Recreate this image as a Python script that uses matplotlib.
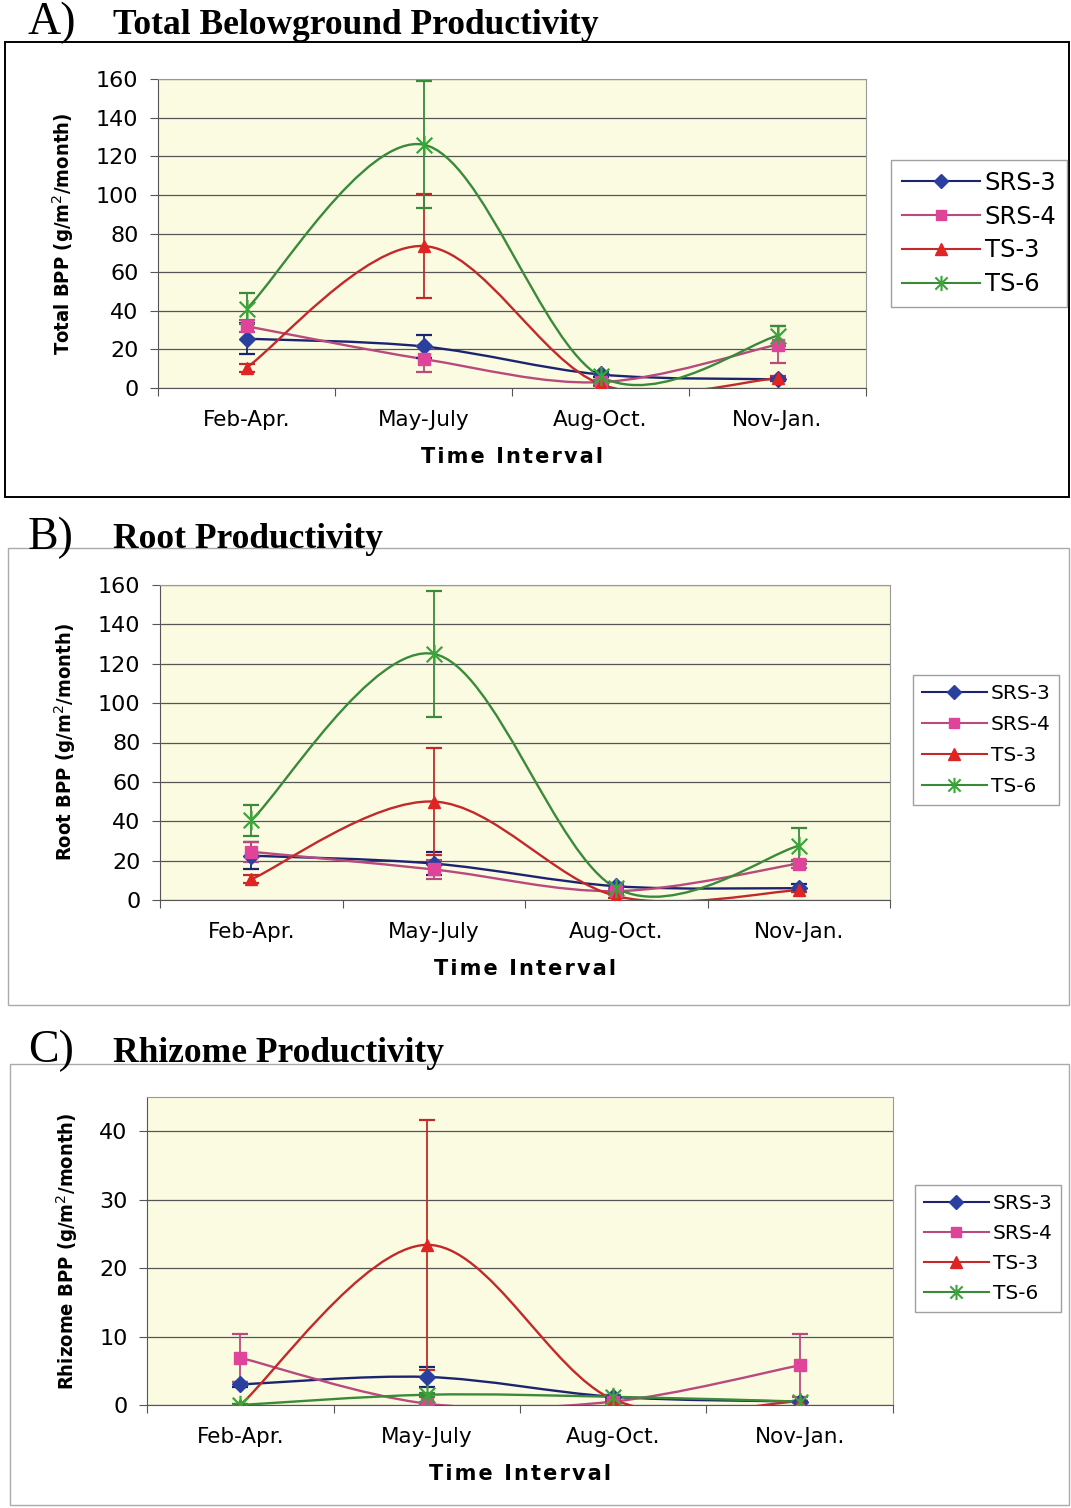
import numpy as np
import matplotlib
matplotlib.use("Agg")
import matplotlib.pyplot as plt
from matplotlib.path import Path
from matplotlib.patches import PathPatch, Rectangle
from matplotlib.lines import Line2D

plt.rcParams['font.family'] = ['DejaVu Sans']

intervals = ["Feb-Apr.", "May-July", "Aug-Oct.", "Nov-Jan."]
sites = ["SRS-3", "SRS-4", "TS-3", "TS-6"]

# panel A: total belowground productivity (g/m2/month)
total_mean = {
    "SRS-3": [25.5, 21.5, 7, 4.5],
    "SRS-4": [32, 15, 3, 22.5],
    "TS-3": [10.5, 73.5, 2, 5],
    "TS-6": [41, 126, 6, 27],
}
total_err = {
    "SRS-3": [8, 6, 1.5, 1],
    "SRS-4": [3, 6.5, 1, 9.5],
    "TS-3": [2, 27, 1, 1],
    "TS-6": [8, 33, 2, 5],
}

# panel B: root productivity
root_mean = {
    "SRS-3": [22.5, 18.5, 7, 6],
    "SRS-4": [24.5, 15.5, 4.5, 18.5],
    "TS-3": [10.5, 50, 2, 5],
    "TS-6": [40.5, 125, 6, 27.5],
}
root_err = {
    "SRS-3": [7, 6, 1.5, 2],
    "SRS-4": [5, 5, 1, 2],
    "TS-3": [2, 27, 1, 1],
    "TS-6": [8, 32, 2, 9],
}

# panel C: rhizome productivity
rhiz_mean = {
    "SRS-3": [3.0, 4.1, 1.2, 0.5],
    "SRS-4": [6.9, 0.2, 0.5, 5.8],
    "TS-3": [0.0, 23.4, 0.8, 0.5],
    "TS-6": [0.0, 1.5, 1.2, 0.5],
}
rhiz_err = {
    "SRS-3": [0.3, 1.5, 0.2, 0.1],
    "SRS-4": [3.5, 0.2, 0.2, 4.6],
    "TS-3": [0.1, 18.3, 0.2, 0.1],
    "TS-6": [0.1, 0.3, 0.2, 0.1],
}

line_col = {"SRS-3": "#1c2470", "SRS-4": "#b84a7e", "TS-3": "#c22a2a", "TS-6": "#3a8a3a"}
mark_col = {"SRS-3": "#2a3f9e", "SRS-4": "#e0449a", "TS-3": "#e02424", "TS-6": "#3aa63a"}

star = Path([(-1, -1), (1, 1), (-1, 1), (1, -1), (0, -1.25), (0, 1.25)],
            [Path.MOVETO, Path.LINETO, Path.MOVETO, Path.LINETO, Path.MOVETO, Path.LINETO])
markers = {"SRS-3": "D", "SRS-4": "s", "TS-3": "^", "TS-6": star}
msize = {"SRS-3": 8, "SRS-4": 8, "TS-3": 9, "TS-6": 14}


def smooth_path(x, y):
    # excel style smoothed line: catmull-rom converted to cubic bezier
    pts = np.column_stack([x, y])
    n = len(pts)
    verts = [pts[0]]
    codes = [Path.MOVETO]
    for i in range(n - 1):
        p0 = pts[max(i - 1, 0)]
        p1 = pts[i]
        p2 = pts[i + 1]
        p3 = pts[min(i + 2, n - 1)]
        c1 = p1 + (p2 - p0) / 6.0
        c2 = p2 - (p3 - p1) / 6.0
        verts += [c1, c2, p2]
        codes += [Path.CURVE4] * 3
    return Path(verts, codes)


def panel(rect, means, errs, ylim, yticks, ylabel, ylab_fs, leg_pos, leg_fs, leg_sp):
    ax = fig.add_axes(rect)
    ax.set_facecolor("#fbfbe2")
    x = np.arange(len(intervals)) + 0.5
    for s in sites:
        ax.add_patch(PathPatch(smooth_path(x, np.array(means[s])), fill=False,
                               edgecolor=line_col[s], lw=1.7, zorder=3))
        ax.errorbar(x, means[s], yerr=errs[s], fmt="none", ecolor=line_col[s],
                    elinewidth=1.3, capsize=6, capthick=1.6, zorder=4)
        if s == "TS-6":
            ax.plot(x, means[s], ls="none", marker=star, ms=msize[s],
                    mec=mark_col[s], mew=1.6, zorder=5)
        else:
            ax.plot(x, means[s], ls="none", marker=markers[s], ms=msize[s],
                    mfc=mark_col[s], mec=mark_col[s], zorder=5)
    ax.set_xlim(0, len(intervals))
    ax.set_ylim(*ylim)
    ax.set_yticks(yticks)
    ax.yaxis.grid(True, color="#555555", lw=0.9)
    ax.set_axisbelow(True)
    ax.set_xticks(np.arange(len(intervals) + 1))
    ax.set_xticklabels([])
    ax.set_xticks(x, minor=True)
    ax.set_xticklabels(intervals, minor=True, fontsize=15.5)
    ax.tick_params(axis="x", which="minor", length=0, pad=16)
    ax.tick_params(axis="x", which="major", length=6, color="#555555")
    ax.tick_params(axis="y", labelsize=16, length=6, color="#555555", pad=8)
    for side in ["left", "bottom"]:
        ax.spines[side].set_color("#555555")
    for side in ["top", "right"]:
        ax.spines[side].set_color("#999999")
    ax.set_xlabel("\u200a".join("Time Interval"), fontsize=15, fontweight="bold", labelpad=12)
    ax.set_ylabel(ylabel, fontsize=ylab_fs, fontweight="bold", labelpad=14,
                  fontstretch="condensed")

    handles = []
    for s in sites:
        if s == "TS-6":
            h = Line2D([], [], color=line_col[s], lw=1.5, marker=star, ms=11,
                       mec=mark_col[s], mew=1.5)
        else:
            h = Line2D([], [], color=line_col[s], lw=1.5, marker=markers[s],
                       ms=msize[s] - 1, mfc=mark_col[s], mec=mark_col[s])
        handles.append(h)
    leg = fig.legend(handles, sites, loc="upper left", bbox_to_anchor=leg_pos,
                     fontsize=leg_fs, frameon=True, fancybox=False,
                     edgecolor="#888888", handlelength=3.2, labelspacing=leg_sp,
                     borderpad=0.45, handletextpad=0.2, borderaxespad=0)
    leg.get_frame().set_linewidth(1.0)
    return ax


W, H = 1071, 1508
fig = plt.figure(figsize=(W / 100, H / 100), dpi=100)


def fx(px):
    return px / W


def fy(py):
    return 1 - py / H


# panel frames
fig.add_artist(Rectangle((fx(5), fy(497)), fx(1064), 455 / H, transform=fig.transFigure,
                         fill=False, edgecolor="black", lw=1.4))
fig.add_artist(Rectangle((fx(8), fy(1005)), fx(1061), 457 / H, transform=fig.transFigure,
                         fill=False, edgecolor="#aaaaaa", lw=1.0))
fig.add_artist(Rectangle((fx(10), fy(1505)), fx(1059), 441 / H, transform=fig.transFigure,
                         fill=False, edgecolor="#aaaaaa", lw=1.0))

titles = [("A)", "Total Belowground Productivity", 23),
          ("B)", "Root Productivity", 538),
          ("C)", "Rhizome Productivity", 1051)]
for lab, ttl, yy in titles:
    fig.text(fx(28), fy(yy), lab, family="Liberation Serif", fontsize=33, va="center")
    fig.text(fx(113), fy(yy + 2), ttl, family="Liberation Serif", fontsize=25.5,
             fontweight="bold", va="center")

panel([fx(158), fy(388), fx(866 - 158), 309 / H], total_mean, total_err,
      (0, 160), np.arange(0, 161, 20), "Total BPP (g/m$^2$/month)", 14.5,
      (fx(891), fy(160)), 17.5, 0.4)
panel([fx(160), fy(900), fx(890 - 160), 315 / H], root_mean, root_err,
      (0, 160), np.arange(0, 161, 20), "Root BPP (g/m$^2$/month)", 14.5,
      (fx(913), fy(675)), 14.5, 0.6)
panel([fx(147), fy(1405), fx(893 - 147), 308 / H], rhiz_mean, rhiz_err,
      (0, 45), np.arange(0, 41, 10), "Rhizome BPP (g/m$^2$/month)", 14.5,
      (fx(915), fy(1185)), 14.5, 0.55)

fig.savefig("out.png", dpi=100)
